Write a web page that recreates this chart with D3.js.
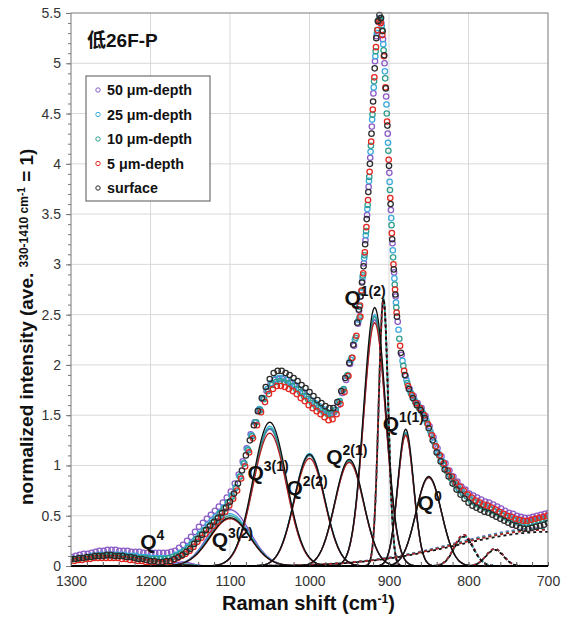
<!DOCTYPE html>
<html>
<head>
<meta charset="utf-8">
<script src="https://cdn.jsdelivr.net/npm/d3@7"></script>
<style>
  body { margin: 0; background: #fff; }
  text { font-family: "Liberation Sans", Arial, "Noto Sans CJK SC", sans-serif; }
</style>
</head>
<body>
<svg id="chart" width="567" height="619"></svg>
<script>
// each spectrum is sampled every 5 cm-1 (every 2 cm-1 across the main peak);
// the depths were recorded on slightly offset wavenumber grids
const seriesNames = ['50 μm-depth', '25 μm-depth', '10 μm-depth', '5 μm-depth', 'surface'];
const offsetWide = [1, 2, 3, 4, 0];          // cm-1, broad parts
const offsetPeak = [0.4, 0.8, 1.2, 1.6, 0];  // cm-1, 938-892 cm-1 part

// normalized intensities (1300 -> 940 | 938 -> 892 | 890 -> 700)
const depth50 = [
  0.09,0.10,0.11,0.12,0.12,0.13,0.14,0.15,0.15,0.16,
  0.16,0.16,0.15,0.15,0.15,0.14,0.14,0.14,0.13,0.13,
  0.13,0.13,0.13,0.13,0.13,0.14,0.15,0.18,0.21,0.25,
  0.29,0.34,0.39,0.43,0.47,0.51,0.55,0.59,0.63,0.68,
  0.74,0.82,0.91,1.04,1.17,1.31,1.43,1.55,1.66,1.74,
  1.81,1.85,1.86,1.86,1.85,1.82,1.79,1.76,1.72,1.69,
  1.65,1.61,1.58,1.55,1.53,1.51,1.53,1.60,1.72,1.85,
  2.01,2.19,2.41,
  2.54,2.68,2.83,3.01,3.24,3.49,3.77,4.06,4.37,4.70,5.02,5.27,5.41,5.45,5.40,5.24,5.00,4.67,4.30,3.91,3.54,3.21,2.92,2.68,
  2.43,2.10,1.89,1.76,1.69,1.62,1.57,1.49,1.39,1.28,
  1.17,1.09,1.02,0.95,0.89,0.84,0.79,0.76,0.72,0.70,
  0.68,0.66,0.64,0.63,0.61,0.59,0.57,0.55,0.53,0.52,
  0.50,0.49,0.48,0.48,0.49,0.50,0.51,0.52,0.53
];
const depth25 = [
  0.07,0.07,0.08,0.08,0.09,0.10,0.10,0.11,0.11,0.11,
  0.11,0.11,0.11,0.11,0.10,0.10,0.10,0.09,0.09,0.09,
  0.08,0.08,0.08,0.08,0.08,0.09,0.11,0.13,0.15,0.19,
  0.23,0.27,0.32,0.36,0.41,0.45,0.49,0.53,0.58,0.63,
  0.70,0.78,0.89,1.02,1.16,1.30,1.43,1.56,1.67,1.76,
  1.82,1.86,1.87,1.87,1.85,1.83,1.80,1.76,1.73,1.69,
  1.65,1.62,1.59,1.56,1.53,1.52,1.55,1.63,1.75,1.89,
  2.05,2.25,2.45,
  2.58,2.72,2.87,3.06,3.29,3.55,3.83,4.12,4.44,4.76,5.07,5.30,5.42,5.45,5.37,5.19,4.92,4.59,4.21,3.82,3.46,3.14,2.86,2.62,
  2.35,2.04,1.85,1.73,1.65,1.59,1.53,1.45,1.34,1.23,
  1.12,1.04,0.96,0.90,0.84,0.78,0.74,0.70,0.67,0.64,
  0.62,0.60,0.59,0.57,0.55,0.53,0.51,0.49,0.48,0.46,
  0.45,0.44,0.43,0.43,0.44,0.45,0.46,0.47,0.48
];
const depth10 = [
  0.07,0.07,0.08,0.08,0.09,0.09,0.10,0.10,0.10,0.10,
  0.10,0.10,0.10,0.09,0.09,0.09,0.08,0.08,0.08,0.07,
  0.07,0.07,0.07,0.07,0.08,0.09,0.10,0.12,0.15,0.18,
  0.22,0.27,0.31,0.35,0.39,0.43,0.47,0.52,0.57,0.63,
  0.69,0.78,0.89,1.02,1.15,1.29,1.43,1.55,1.66,1.74,
  1.80,1.83,1.84,1.83,1.82,1.79,1.76,1.73,1.69,1.66,
  1.62,1.59,1.56,1.53,1.51,1.51,1.55,1.64,1.76,1.90,
  2.07,2.27,2.47,
  2.58,2.73,2.89,3.09,3.33,3.59,3.87,4.18,4.49,4.82,5.12,5.33,5.43,5.43,5.33,5.13,4.85,4.50,4.13,3.74,3.39,3.07,2.80,2.57,
  2.26,1.99,1.82,1.71,1.63,1.57,1.51,1.42,1.31,1.19,
  1.10,1.01,0.94,0.87,0.81,0.76,0.72,0.69,0.65,0.63,
  0.61,0.59,0.57,0.56,0.54,0.52,0.50,0.48,0.46,0.45,
  0.43,0.42,0.42,0.43,0.44,0.45,0.46,0.47,0.47
];
const depth5 = [
  0.05,0.06,0.06,0.07,0.07,0.08,0.08,0.08,0.08,0.08,
  0.08,0.08,0.07,0.07,0.06,0.06,0.05,0.05,0.04,0.04,
  0.04,0.03,0.03,0.04,0.04,0.06,0.08,0.10,0.12,0.15,
  0.19,0.24,0.28,0.32,0.36,0.40,0.44,0.49,0.54,0.60,
  0.67,0.75,0.87,0.99,1.13,1.27,1.40,1.53,1.63,1.71,
  1.76,1.79,1.79,1.78,1.76,1.74,1.71,1.67,1.64,1.60,
  1.57,1.54,1.51,1.48,1.45,1.46,1.51,1.61,1.73,1.89,
  2.07,2.29,2.48,
  2.59,2.74,2.91,3.12,3.37,3.64,3.92,4.22,4.54,4.86,5.16,5.33,5.41,5.40,5.28,5.07,4.76,4.42,4.04,3.66,3.31,3.00,2.75,2.52,
  2.19,1.94,1.79,1.70,1.62,1.57,1.50,1.41,1.30,1.19,
  1.10,1.02,0.95,0.89,0.83,0.79,0.75,0.71,0.68,0.65,
  0.63,0.61,0.60,0.58,0.56,0.54,0.52,0.50,0.49,0.47,
  0.46,0.45,0.45,0.46,0.47,0.48,0.49,0.50,0.50
];
const surface = [
  0.07,0.07,0.08,0.08,0.09,0.09,0.10,0.10,0.10,0.11,
  0.11,0.10,0.10,0.10,0.09,0.09,0.08,0.07,0.07,0.06,
  0.05,0.05,0.04,0.04,0.05,0.05,0.07,0.09,0.11,0.14,
  0.17,0.22,0.27,0.31,0.36,0.40,0.44,0.48,0.53,0.58,
  0.64,0.72,0.82,0.95,1.10,1.25,1.40,1.54,1.67,1.78,
  1.86,1.92,1.94,1.94,1.92,1.90,1.87,1.84,1.80,1.77,
  1.73,1.69,1.65,1.62,1.59,1.57,1.57,1.63,1.74,1.87,
  2.02,2.20,2.42,
  2.55,2.68,2.82,2.98,3.20,3.45,3.72,4.00,4.30,4.62,4.95,5.25,5.42,5.48,5.45,5.32,5.08,4.75,4.38,3.98,3.60,3.25,2.95,2.70,
  2.48,2.12,1.90,1.76,1.67,1.60,1.55,1.47,1.37,1.25,
  1.13,1.04,0.96,0.89,0.82,0.76,0.71,0.67,0.63,0.60,
  0.58,0.56,0.54,0.53,0.51,0.49,0.47,0.45,0.43,0.41,
  0.40,0.38,0.37,0.37,0.38,0.39,0.40,0.41,0.43
];
const seriesValues = [depth50, depth25, depth10, depth5, surface];

const markerColors = ['#8a5ac6', '#39a9dc', '#2f9e8c', '#e2261f', '#2a2a2a'];
const curveColors = ['#7b4fc9', '#3cb0e0', '#2b9c8a', '#b01e1e', '#111111'];

// fitted Gaussian components: centre, sigma (cm-1), dashed or not
const compCenter = [1160, 1100, 1050, 1000, 950, 918, 907, 879, 850, 806, 767, 700];
const compSigma  = [12, 25, 21, 19, 18, 14, 6, 10, 16, 12, 11, 115];
const compDashed = [false, false, false, false, false, false, true, false, false, true, true, true];
// component heights per series
const h50   = [0.04, 0.56, 1.36, 1.10, 1.04, 2.45, 2.65, 1.31, 0.88, 0.31, 0.17, 0.38];
const h25   = [0.02, 0.52, 1.39, 1.12, 1.05, 2.50, 2.66, 1.33, 0.88, 0.30, 0.17, 0.37];
const h10   = [0.02, 0.50, 1.37, 1.10, 1.04, 2.48, 2.66, 1.32, 0.88, 0.30, 0.17, 0.37];
const h5    = [0.01, 0.47, 1.32, 1.07, 1.03, 2.42, 2.65, 1.30, 0.88, 0.31, 0.17, 0.36];
const hSurf = [0.01, 0.48, 1.43, 1.11, 1.06, 2.57, 2.66, 1.36, 0.89, 0.29, 0.16, 0.34];
const compHeights = [h50, h25, h10, h5, hSurf];

// band labels
const qLabels = [
  { sup: '4',    x: 1213, y: 0.17 },
  { sup: '3(2)', x: 1123, y: 0.19 },
  { sup: '3(1)', x: 1078, y: 0.86 },
  { sup: '2(2)', x: 1029, y: 0.71 },
  { sup: '2(1)', x: 979,  y: 1.01 },
  { sup: '1(2)', x: 956,  y: 2.60 },
  { sup: '1(1)', x: 908,  y: 1.34 },
  { sup: '0',    x: 864,  y: 0.56 }
];

const xTicks = [1300, 1200, 1100, 1000, 900, 800, 700];
const yTicks = [0, 0.5, 1, 1.5, 2, 2.5, 3, 3.5, 4, 4.5, 5, 5.5];

const svg = d3.select('#chart');
const plotL = 71, plotR = 548, plotT = 13, plotB = 566;

const x = d3.scaleLinear().domain([1300, 700]).range([plotL, plotR]);
const y = d3.scaleLinear().domain([0, 5.5]).range([plotB, plotT]);

svg.append('clipPath').attr('id', 'plot-clip')
  .append('rect')
  .attr('x', plotL).attr('y', plotT - 4)
  .attr('width', plotR - plotL).attr('height', plotB - plotT + 4);

// grid
svg.append('g').selectAll('line')
  .data(xTicks).join('line')
  .attr('x1', d => x(d)).attr('x2', d => x(d))
  .attr('y1', plotT).attr('y2', plotB)
  .attr('stroke', '#d9d9d9');
svg.append('g').selectAll('line')
  .data(yTicks).join('line')
  .attr('x1', plotL).attr('x2', plotR)
  .attr('y1', d => y(d)).attr('y2', d => y(d))
  .attr('stroke', '#d9d9d9');

// fitted components
const grid = d3.range(1300, 699.5, -1);
const line = d3.line().x(d => x(d[0])).y(d => y(d[1]));
const curves = svg.append('g').attr('fill', 'none').attr('clip-path', 'url(#plot-clip)');
seriesValues.forEach((_, s) => {
  compCenter.forEach((c, k) => {
    const h = compHeights[s][k];
    const sg = compSigma[k];
    const pts = grid.map(w => [w, h * Math.exp(-((w - c) ** 2) / (2 * sg * sg))]);
    curves.append('path')
      .attr('d', line(pts))
      .attr('stroke', curveColors[s])
      .attr('stroke-width', compDashed[k] ? 1.8 : 1.3)
      .attr('stroke-dasharray', compDashed[k] ? '3,3' : null)
      .attr('stroke-dashoffset', compDashed[k] && s === 4 ? 3 : 0);
  });
});

// measured points
function shiftsFor(s) {
  const a = offsetWide[s], b = offsetPeak[s];
  return [
    ...d3.range(73).map(i => 1300 - a - 5 * i),
    ...d3.range(24).map(i => 938 - b - 2 * i),
    ...d3.range(39).map(i => 890 - a - 5 * i)
  ];
}
const points = svg.append('g').attr('clip-path', 'url(#plot-clip)');
seriesValues.forEach((vals, s) => {
  const sh = shiftsFor(s);
  points.append('g')
    .selectAll('circle')
    .data(vals.map((v, i) => [sh[i], v]))
    .join('circle')
    .attr('cx', d => x(d[0]))
    .attr('cy', d => y(d[1]))
    .attr('r', 2.7)
    .attr('fill', 'none')
    .attr('stroke', markerColors[s])
    .attr('stroke-width', 1.25);
});

// frame
svg.append('rect')
  .attr('x', plotL).attr('y', plotT)
  .attr('width', plotR - plotL).attr('height', plotB - plotT)
  .attr('fill', 'none').attr('stroke', '#8a8a8a');
svg.append('line')
  .attr('x1', plotL).attr('x2', plotR)
  .attr('y1', plotB).attr('y2', plotB)
  .attr('stroke', '#000').attr('stroke-width', 2);

// y axis
const yMajor = d3.axisLeft(y).tickValues(yTicks).tickSize(5).tickPadding(5).tickFormat(d => String(d));
const yMinor = d3.axisLeft(y).tickValues(d3.range(0, 5.55, 0.1)).tickSize(3).tickFormat('');
svg.append('g').attr('transform', `translate(${plotL},0)`).call(yMinor)
  .call(g => g.select('.domain').remove())
  .selectAll('line').attr('stroke', '#777');
svg.append('g').attr('transform', `translate(${plotL},0)`).call(yMajor)
  .call(g => g.select('.domain').remove())
  .call(g => g.selectAll('line').attr('stroke', '#777'))
  .call(g => g.selectAll('text').attr('font-size', 14).attr('fill', '#333')
    .style('font-family', '"Liberation Sans", Arial, sans-serif'));

// x axis
const xMinor = d3.axisBottom(x).tickValues(d3.range(1300, 699, -20)).tickSize(-4).tickFormat('');
const xMajor = d3.axisBottom(x).tickValues(xTicks).tickSize(0).tickPadding(10).tickFormat(d => String(d));
svg.append('g').attr('transform', `translate(0,${plotB})`).call(xMinor)
  .call(g => g.select('.domain').remove())
  .selectAll('line').attr('stroke', '#555');
svg.append('g').attr('transform', `translate(0,${plotB})`).call(xMajor)
  .call(g => g.select('.domain').remove())
  .call(g => g.selectAll('text').attr('font-size', 14).attr('fill', '#333')
    .style('font-family', '"Liberation Sans", Arial, sans-serif'));

// axis titles
const xt = svg.append('text')
  .attr('x', 222).attr('y', 610)
  .attr('font-size', 20).attr('font-weight', 'bold').attr('fill', '#111');
xt.append('tspan').text('Raman shift (cm');
xt.append('tspan').attr('font-size', 12).attr('dy', -7).text('-1');
xt.append('tspan').attr('dy', 7).text(')');

const yt = svg.append('text')
  .attr('transform', 'translate(33,505) rotate(-90)')
  .attr('font-size', 19).attr('font-weight', 'bold').attr('fill', '#111');
yt.append('tspan').text('normalized intensity (ave. ');
yt.append('tspan').attr('font-size', 12).attr('dy', -5).text('330-1410 cm');
yt.append('tspan').attr('font-size', 10).attr('dy', -3).text('-1');
yt.append('tspan').attr('font-size', 19).attr('dy', 8).text(' = 1)');

// sample title
svg.append('text')
  .attr('x', 87).attr('y', 47)
  .attr('font-size', 19).attr('font-weight', 'bold').attr('fill', '#111')
  .text('低26F-P');

// legend
const lg = svg.append('g').attr('transform', 'translate(86,76)');
lg.append('rect').attr('width', 124).attr('height', 125)
  .attr('fill', '#fff').attr('stroke', '#555');
seriesNames.forEach((name, i) => {
  const row = lg.append('g').attr('transform', `translate(0,${14 + i * 24.5})`);
  row.append('circle').attr('cx', 12).attr('cy', 0).attr('r', 2.2)
    .attr('fill', 'none').attr('stroke', markerColors[i]).attr('stroke-width', 1);
  row.append('text').attr('x', 21).attr('y', 5)
    .attr('font-size', 14.3).attr('font-weight', 'bold').attr('fill', '#111')
    .text(name);
});

// Q labels
qLabels.forEach(q => {
  const t = svg.append('text')
    .attr('x', x(q.x)).attr('y', y(q.y))
    .attr('font-size', 21).attr('font-weight', 'bold').attr('fill', '#111');
  t.append('tspan').text('Q');
  t.append('tspan').attr('font-size', 14).attr('dy', -9).text(q.sup);
});
</script>
</body>
</html>
